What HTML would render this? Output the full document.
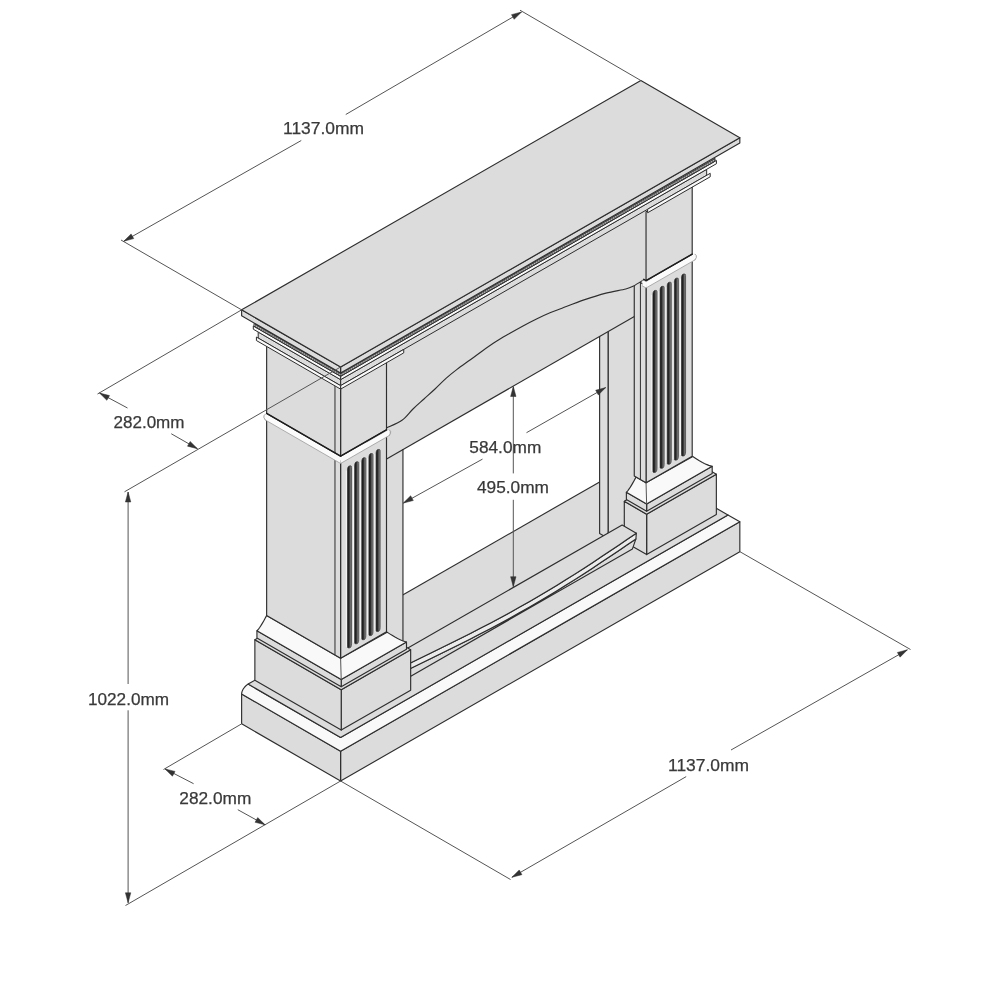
<!DOCTYPE html><html><head><meta charset="utf-8"><style>html,body{margin:0;padding:0;background:#fff;width:1000px;height:1000px;overflow:hidden}svg{display:block}</style></head><body><svg width="1000" height="1000" viewBox="0 0 1000 1000"><defs><linearGradient id="flute" x1="0" y1="0" x2="1" y2="0"><stop offset="0" stop-color="#101010"/><stop offset="0.4" stop-color="#2c2c2c"/><stop offset="1" stop-color="#9a9a9a"/></linearGradient></defs><rect width="1000" height="1000" fill="#ffffff"/><polygon points="340.60,781.00 739.83,551.65 739.83,521.85 340.60,751.20" fill="#dcdcdc" stroke="#2e2e2e" stroke-width="1.15" stroke-linejoin="round" />
<polygon points="241.62,723.85 340.60,781.00 340.60,751.20 241.62,694.05" fill="#dcdcdc" stroke="#2e2e2e" stroke-width="1.15" stroke-linejoin="round" />
<polygon points="340.60,751.20 739.83,521.85 727.95,514.99 340.60,737.52 248.11,684.12 246.84,684.97 245.63,686.02 244.50,687.24 243.52,688.57 242.71,689.98 242.11,691.39 241.74,692.77 241.62,694.05" fill="#f9f9f9" stroke="#2e2e2e" stroke-width="1.15" stroke-linejoin="round" />
<polygon points="248.11,684.12 340.60,737.52 727.95,514.99 640.84,464.70" fill="#dcdcdc" stroke="#2e2e2e" stroke-width="1.15" stroke-linejoin="round" />
<polygon points="374.89,675.02 617.37,535.72 617.37,471.72 374.89,611.02" fill="#dcdcdc" stroke="none" stroke-width="1.15" stroke-linejoin="round" />
<line x1="383.55" y1="606.05" x2="599.62" y2="481.92" stroke="#2e2e2e" stroke-width="1.15" />
<polygon points="599.62,533.42 608.28,538.42 608.28,331.52 599.62,326.52" fill="#dcdcdc" stroke="#2e2e2e" stroke-width="1.15" stroke-linejoin="round" />
<path d="M366.23,689.97 L652.01,525.80 L652.01,216.80 L366.23,380.97 Z M402.95,651.38 L608.28,533.42 L608.28,331.52 L402.95,449.48 Z" fill="#dcdcdc" stroke="none" stroke-width="1.15" stroke-linejoin="round" fill-rule="evenodd"/>
<polyline points="402.95,651.38 402.95,449.48" fill="none" stroke="#2e2e2e" stroke-width="1.15" stroke-linejoin="round" stroke-linecap="round" />
<line x1="608.28" y1="536.42" x2="608.28" y2="331.52" stroke="#2e2e2e" stroke-width="1.15" />
<line x1="385.29" y1="459.63" x2="636.08" y2="315.55" stroke="#2e2e2e" stroke-width="1.15" />
<polygon points="646.64,554.62 716.36,514.57 716.36,474.17 646.64,514.22" fill="#dcdcdc" stroke="#2e2e2e" stroke-width="1.15" stroke-linejoin="round" />
<polygon points="624.30,541.72 646.64,554.62 646.64,514.22 624.30,501.32" fill="#dcdcdc" stroke="#2e2e2e" stroke-width="1.15" stroke-linejoin="round" />
<polygon points="624.30,501.32 646.64,514.22 716.36,474.17 694.01,461.27" fill="#dcdcdc" stroke="#2e2e2e" stroke-width="1.15" stroke-linejoin="round" />
<polygon points="646.64,511.23 712.20,473.57 712.20,466.37 646.64,504.03" fill="#dcdcdc" stroke="#2e2e2e" stroke-width="1.15" stroke-linejoin="round" />
<polygon points="626.38,499.53 646.64,511.23 646.64,504.03 626.38,492.33" fill="#dcdcdc" stroke="#2e2e2e" stroke-width="1.15" stroke-linejoin="round" />
<polygon points="626.38,492.33 646.64,504.03 712.20,466.37 708.75,465.38 706.40,464.40 704.34,463.41 702.44,462.43 700.67,461.45 698.98,460.47 697.36,459.48 695.79,458.50 694.28,457.52 692.80,456.54 646.04,482.70 636.08,476.95 635.34,478.36 634.58,479.77 633.80,481.20 632.99,482.65 632.15,484.11 631.26,485.60 630.31,487.13 629.28,488.70 628.10,490.36" fill="#f9f9f9" stroke="#2e2e2e" stroke-width="1.15" stroke-linejoin="round" />
<line x1="646.64" y1="504.03" x2="646.04" y2="482.70" stroke="#555" stroke-width="1.00" />
<polygon points="409.45,669.01 419.67,664.05 429.89,659.07 440.07,654.09 450.22,649.08 460.32,644.04 470.35,638.96 480.31,633.84 490.18,628.68 499.97,623.46 509.66,618.18 519.25,612.85 528.74,607.46 538.12,602.01 547.40,596.50 556.58,590.93 565.67,585.31 574.66,579.64 583.58,573.91 592.42,568.15 601.19,562.35 609.92,556.52 618.60,550.66 627.26,544.79 635.91,538.91 632.44,548.91 405.98,679.01" fill="#dcdcdc" stroke="#2e2e2e" stroke-width="1.15" stroke-linejoin="round" />
<polygon points="409.88,663.26 420.11,658.30 430.32,653.32 440.51,648.34 450.65,643.33 460.75,638.29 470.78,633.21 480.74,628.09 490.62,622.93 500.40,617.71 510.09,612.43 519.68,607.10 529.17,601.71 538.56,596.26 547.84,590.75 557.02,585.18 566.10,579.56 575.10,573.89 584.01,568.16 592.85,562.40 601.63,556.60 610.35,550.77 619.04,544.91 627.69,539.04 636.34,533.16 635.91,538.91 627.26,544.79 618.60,550.66 609.92,556.52 601.19,562.35 592.42,568.15 583.58,573.91 574.66,579.64 565.67,585.31 556.58,590.93 547.40,596.50 538.12,602.01 528.74,607.46 519.25,612.85 509.66,618.18 499.97,623.46 490.18,628.68 480.31,633.84 470.35,638.96 460.32,644.04 450.22,649.08 440.07,654.09 429.89,659.07 419.67,664.05 409.45,669.01" fill="#ececec" stroke="#2e2e2e" stroke-width="1.15" stroke-linejoin="round" />
<polygon points="395.68,655.06 622.14,524.96 636.34,533.16 627.69,539.04 619.04,544.91 610.35,550.77 601.63,556.60 592.85,562.40 584.01,568.16 575.10,573.89 566.10,579.56 557.02,585.18 547.84,590.75 538.56,596.26 529.17,601.71 519.68,607.10 510.09,612.43 500.40,617.71 490.62,622.93 480.74,628.09 470.78,633.21 460.75,638.29 450.65,643.33 440.51,648.34 430.32,653.32 420.11,658.30 409.88,663.26" fill="#dcdcdc" stroke="#2e2e2e" stroke-width="1.15" stroke-linejoin="round" />
<polygon points="341.21,730.09 410.66,690.19 410.66,649.79 341.21,689.69" fill="#dcdcdc" stroke="#2e2e2e" stroke-width="1.15" stroke-linejoin="round" />
<polygon points="254.87,680.24 341.21,730.09 341.21,689.69 254.87,639.84" fill="#dcdcdc" stroke="#2e2e2e" stroke-width="1.15" stroke-linejoin="round" />
<polygon points="254.87,639.84 341.21,689.69 410.66,649.79 324.32,599.94" fill="#dcdcdc" stroke="#2e2e2e" stroke-width="1.15" stroke-linejoin="round" />
<polygon points="341.21,686.69 406.50,649.18 406.50,641.98 341.21,679.49" fill="#dcdcdc" stroke="#2e2e2e" stroke-width="1.15" stroke-linejoin="round" />
<polygon points="256.94,638.04 341.21,686.69 341.21,679.49 256.94,630.84" fill="#dcdcdc" stroke="#2e2e2e" stroke-width="1.15" stroke-linejoin="round" />
<polygon points="256.94,630.84 341.21,679.49 406.50,641.98 403.05,641.00 400.70,640.01 398.64,639.03 396.75,638.05 394.97,637.07 393.28,636.08 391.66,635.10 390.09,634.12 388.58,633.14 387.10,632.15 340.60,658.17 266.64,615.47 265.91,616.88 265.15,618.29 264.37,619.72 263.56,621.17 262.71,622.63 261.82,624.12 260.88,625.65 259.85,627.22 258.67,628.87" fill="#f9f9f9" stroke="#2e2e2e" stroke-width="1.15" stroke-linejoin="round" />
<line x1="341.21" y1="679.49" x2="340.60" y2="658.17" stroke="#555" stroke-width="1.00" />
<polygon points="646.04,482.70 692.20,456.19 692.20,259.19 646.04,285.70" fill="#dcdcdc" stroke="#2e2e2e" stroke-width="1.15" stroke-linejoin="round" />
<polygon points="634.26,475.90 646.04,482.70 646.04,285.70 634.26,278.90" fill="#dcdcdc" stroke="#2e2e2e" stroke-width="1.15" stroke-linejoin="round" />
<line x1="640.41" y1="479.45" x2="640.41" y2="282.45" stroke="#2e2e2e" stroke-width="1.00" />
<line x1="651.88" y1="471.35" x2="651.88" y2="295.05" stroke="#f4f4f4" stroke-width="1.30" />
<path d="M652.92,470.75 L652.92,294.45 C652.92,292.25 653.66,290.46 654.96,290.46 C656.26,290.46 656.99,289.91 656.99,292.11 L656.99,468.41 C656.99,470.61 656.26,472.40 654.96,472.40 C653.66,472.40 652.92,472.95 652.92,470.75 Z" fill="url(#flute)" stroke="#333" stroke-width="0.70" stroke-linejoin="round" />
<line x1="659.03" y1="467.24" x2="659.03" y2="290.94" stroke="#f4f4f4" stroke-width="1.30" />
<path d="M660.07,466.64 L660.07,290.34 C660.07,288.14 660.80,286.36 662.10,286.36 C663.40,286.36 664.14,285.81 664.14,288.01 L664.14,464.31 C664.14,466.51 663.40,468.30 662.10,468.30 C660.80,468.30 660.07,468.84 660.07,466.64 Z" fill="url(#flute)" stroke="#333" stroke-width="0.70" stroke-linejoin="round" />
<line x1="666.17" y1="463.14" x2="666.17" y2="286.84" stroke="#f4f4f4" stroke-width="1.30" />
<path d="M667.21,462.54 L667.21,286.24 C667.21,284.04 667.95,282.25 669.25,282.25 C670.55,282.25 671.28,281.70 671.28,283.90 L671.28,460.20 C671.28,462.40 670.55,464.19 669.25,464.19 C667.95,464.19 667.21,464.74 667.21,462.54 Z" fill="url(#flute)" stroke="#333" stroke-width="0.70" stroke-linejoin="round" />
<line x1="673.32" y1="459.03" x2="673.32" y2="282.73" stroke="#f4f4f4" stroke-width="1.30" />
<path d="M674.36,458.44 L674.36,282.14 C674.36,279.94 675.09,278.15 676.39,278.15 C677.69,278.15 678.43,277.60 678.43,279.80 L678.43,456.10 C678.43,458.30 677.69,460.09 676.39,460.09 C675.09,460.09 674.36,460.64 674.36,458.44 Z" fill="url(#flute)" stroke="#333" stroke-width="0.70" stroke-linejoin="round" />
<line x1="680.46" y1="454.93" x2="680.46" y2="278.63" stroke="#f4f4f4" stroke-width="1.30" />
<path d="M681.50,454.33 L681.50,278.03 C681.50,275.83 682.24,274.04 683.54,274.04 C684.84,274.04 685.57,273.49 685.57,275.69 L685.57,451.99 C685.57,454.19 684.84,455.98 683.54,455.98 C682.24,455.98 681.50,456.53 681.50,454.33 Z" fill="url(#flute)" stroke="#333" stroke-width="0.70" stroke-linejoin="round" />
<polygon points="340.60,658.17 386.50,631.80 386.50,434.80 340.60,461.17" fill="#dcdcdc" stroke="#2e2e2e" stroke-width="1.15" stroke-linejoin="round" />
<polygon points="266.64,615.47 340.60,658.17 340.60,461.17 266.64,418.47" fill="#dcdcdc" stroke="#2e2e2e" stroke-width="1.15" stroke-linejoin="round" />
<line x1="334.97" y1="654.92" x2="334.97" y2="457.92" stroke="#2e2e2e" stroke-width="1.00" />
<line x1="346.45" y1="646.81" x2="346.45" y2="470.51" stroke="#f4f4f4" stroke-width="1.30" />
<path d="M347.48,646.22 L347.48,469.92 C347.48,467.72 348.22,465.93 349.52,465.93 C350.82,465.93 351.55,465.38 351.55,467.58 L351.55,643.88 C351.55,646.08 350.82,647.87 349.52,647.87 C348.22,647.87 347.48,648.42 347.48,646.22 Z" fill="url(#flute)" stroke="#333" stroke-width="0.70" stroke-linejoin="round" />
<line x1="353.59" y1="642.71" x2="353.59" y2="466.41" stroke="#f4f4f4" stroke-width="1.30" />
<path d="M354.63,642.11 L354.63,465.81 C354.63,463.61 355.36,461.82 356.66,461.82 C357.96,461.82 358.70,461.27 358.70,463.47 L358.70,639.77 C358.70,641.97 357.96,643.76 356.66,643.76 C355.36,643.76 354.63,644.31 354.63,642.11 Z" fill="url(#flute)" stroke="#333" stroke-width="0.70" stroke-linejoin="round" />
<line x1="360.73" y1="638.61" x2="360.73" y2="462.31" stroke="#f4f4f4" stroke-width="1.30" />
<path d="M361.77,638.01 L361.77,461.71 C361.77,459.51 362.51,457.72 363.81,457.72 C365.11,457.72 365.84,457.17 365.84,459.37 L365.84,635.67 C365.84,637.87 365.11,639.66 363.81,639.66 C362.51,639.66 361.77,640.21 361.77,638.01 Z" fill="url(#flute)" stroke="#333" stroke-width="0.70" stroke-linejoin="round" />
<line x1="367.88" y1="634.50" x2="367.88" y2="458.20" stroke="#f4f4f4" stroke-width="1.30" />
<path d="M368.92,633.90 L368.92,457.60 C368.92,455.40 369.65,453.61 370.95,453.61 C372.25,453.61 372.99,453.07 372.99,455.27 L372.99,631.57 C372.99,633.77 372.25,635.55 370.95,635.55 C369.65,635.55 368.92,636.10 368.92,633.90 Z" fill="url(#flute)" stroke="#333" stroke-width="0.70" stroke-linejoin="round" />
<line x1="375.02" y1="630.40" x2="375.02" y2="454.10" stroke="#f4f4f4" stroke-width="1.30" />
<path d="M376.06,629.80 L376.06,453.50 C376.06,451.30 376.80,449.51 378.10,449.51 C379.40,449.51 380.13,448.96 380.13,451.16 L380.13,627.46 C380.13,629.66 379.40,631.45 378.10,631.45 C376.80,631.45 376.06,632.00 376.06,629.80 Z" fill="url(#flute)" stroke="#333" stroke-width="0.70" stroke-linejoin="round" />
<path d="M386.60,427.90 C389.17,426.63 397.60,423.45 402.00,420.30 C406.40,417.15 409.33,412.55 413.00,409.00 C416.67,405.45 420.33,402.33 424.00,399.00 C427.67,395.67 431.33,392.43 435.00,389.00 C438.67,385.57 442.33,381.67 446.00,378.40 C449.67,375.13 453.00,372.47 457.00,369.40 C461.00,366.33 465.83,363.03 470.00,360.00 C474.17,356.97 477.67,354.27 482.00,351.20 C486.33,348.13 491.57,344.45 496.00,341.60 C500.43,338.75 504.10,336.70 508.60,334.10 C513.10,331.50 518.35,328.52 523.00,326.00 C527.65,323.48 532.00,321.20 536.50,319.00 C541.00,316.80 545.75,314.60 550.00,312.80 C554.25,311.00 556.33,310.35 562.00,308.20 C567.67,306.05 576.67,302.42 584.00,299.90 C591.33,297.38 599.03,294.92 606.00,293.10 C612.97,291.28 621.22,290.18 625.80,289.00 C630.38,287.82 630.57,287.52 633.50,286.00 C636.43,284.48 641.75,280.92 643.40,279.90 L646.50,279.00 L646.04,204.70 L386.50,353.80 Z" fill="#dcdcdc" stroke="none" stroke-width="1.15" stroke-linejoin="round" />
<path d="M386.60,427.90 C389.17,426.63 397.60,423.45 402.00,420.30 C406.40,417.15 409.33,412.55 413.00,409.00 C416.67,405.45 420.33,402.33 424.00,399.00 C427.67,395.67 431.33,392.43 435.00,389.00 C438.67,385.57 442.33,381.67 446.00,378.40 C449.67,375.13 453.00,372.47 457.00,369.40 C461.00,366.33 465.83,363.03 470.00,360.00 C474.17,356.97 477.67,354.27 482.00,351.20 C486.33,348.13 491.57,344.45 496.00,341.60 C500.43,338.75 504.10,336.70 508.60,334.10 C513.10,331.50 518.35,328.52 523.00,326.00 C527.65,323.48 532.00,321.20 536.50,319.00 C541.00,316.80 545.75,314.60 550.00,312.80 C554.25,311.00 556.33,310.35 562.00,308.20 C567.67,306.05 576.67,302.42 584.00,299.90 C591.33,297.38 599.03,294.92 606.00,293.10 C612.97,291.28 621.22,290.18 625.80,289.00 C630.38,287.82 630.57,287.52 633.50,286.00 C636.43,284.48 641.75,280.92 643.40,279.90" fill="none" stroke="#2e2e2e" stroke-width="1.15" stroke-linejoin="round" />
<polygon points="646.04,280.70 692.20,254.19 692.20,185.19 646.04,211.70" fill="#dcdcdc" stroke="#2e2e2e" stroke-width="1.15" stroke-linejoin="round" />
<polygon points="340.60,456.17 386.50,429.80 386.50,360.80 340.60,387.17" fill="#dcdcdc" stroke="#2e2e2e" stroke-width="1.15" stroke-linejoin="round" />
<polygon points="266.64,413.47 340.60,456.17 340.60,387.17 266.64,344.47" fill="#dcdcdc" stroke="#2e2e2e" stroke-width="1.15" stroke-linejoin="round" />
<line x1="334.97" y1="452.92" x2="334.97" y2="383.92" stroke="#2e2e2e" stroke-width="1.00" />
<polygon points="646.04,288.00 694.97,259.89 694.97,254.19 646.04,282.30" fill="#fbfbfb" stroke="none" stroke-width="1.15" stroke-linejoin="round" />
<polygon points="642.40,285.90 646.04,288.00 646.04,282.30 642.40,280.20" fill="#fbfbfb" stroke="none" stroke-width="1.15" stroke-linejoin="round" />
<polyline points="642.40,285.90 646.04,288.00 694.97,259.89" fill="none" stroke="#9a9a9a" stroke-width="0.80" stroke-linejoin="round" stroke-linecap="round" />
<polyline points="643.79,279.40 646.04,280.70 692.20,254.19" fill="none" stroke="#1e1e1e" stroke-width="1.50" stroke-linejoin="round" stroke-linecap="round" />
<polyline points="694.97,254.19 696.27,255.65 696.27,257.65 694.97,259.89" fill="none" stroke="#9a9a9a" stroke-width="0.90" stroke-linejoin="round" stroke-linecap="round" />
<polygon points="340.60,463.47 389.27,435.51 389.27,429.81 340.60,457.77" fill="#fbfbfb" stroke="none" stroke-width="1.15" stroke-linejoin="round" />
<polygon points="265.26,419.97 340.60,463.47 340.60,457.77 265.26,414.27" fill="#fbfbfb" stroke="none" stroke-width="1.15" stroke-linejoin="round" />
<polyline points="265.26,419.97 340.60,463.47 389.27,435.51" fill="none" stroke="#9a9a9a" stroke-width="0.80" stroke-linejoin="round" stroke-linecap="round" />
<polyline points="266.64,413.47 340.60,456.17 386.50,429.80" fill="none" stroke="#1e1e1e" stroke-width="1.50" stroke-linejoin="round" stroke-linecap="round" />
<polyline points="389.27,429.81 390.57,431.26 390.57,433.26 389.27,435.51" fill="none" stroke="#9a9a9a" stroke-width="0.90" stroke-linejoin="round" stroke-linecap="round" />
<polyline points="265.26,414.27 263.96,415.72 263.96,417.72 265.26,419.97" fill="none" stroke="#9a9a9a" stroke-width="0.90" stroke-linejoin="round" stroke-linecap="round" />
<polygon points="340.60,385.65 706.66,175.35 706.66,169.35 340.60,379.65" fill="#dcdcdc" stroke="#2e2e2e" stroke-width="1.00" stroke-linejoin="round" />
<polygon points="258.20,338.07 340.60,385.65 340.60,379.65 258.20,332.07" fill="#dcdcdc" stroke="#2e2e2e" stroke-width="1.00" stroke-linejoin="round" />
<polygon points="340.60,389.14 403.73,352.88 403.73,349.38 340.60,385.64" fill="#f9f9f9" stroke="#2e2e2e" stroke-width="1.00" stroke-linejoin="round" />
<polygon points="256.42,340.54 340.60,389.14 340.60,385.64 256.42,337.04" fill="#f9f9f9" stroke="#2e2e2e" stroke-width="1.00" stroke-linejoin="round" />
<polygon points="647.60,212.78 710.21,176.81 710.21,173.31 647.60,209.28" fill="#f9f9f9" stroke="#2e2e2e" stroke-width="1.00" stroke-linejoin="round" />
<polygon points="340.60,379.63 716.44,163.72 716.44,160.42 340.60,376.33" fill="#f9f9f9" stroke="#2e2e2e" stroke-width="1.00" stroke-linejoin="round" />
<polygon points="253.31,329.23 340.60,379.63 340.60,376.33 253.31,325.93" fill="#f9f9f9" stroke="#2e2e2e" stroke-width="1.00" stroke-linejoin="round" />
<polygon points="340.60,376.34 715.06,161.22 715.06,158.32 340.60,373.44" fill="#6a6a6a" stroke="#2e2e2e" stroke-width="0.90" stroke-linejoin="round" />
<polygon points="254.00,326.34 340.60,376.34 340.60,373.44 254.00,323.44" fill="#6a6a6a" stroke="#2e2e2e" stroke-width="0.90" stroke-linejoin="round" />
<line x1="340.60" y1="374.89" x2="715.06" y2="159.77" stroke="#c8c8c8" stroke-width="1.10" stroke-dasharray="1.0 1.4"/>
<line x1="254.00" y1="324.89" x2="340.60" y2="374.89" stroke="#c8c8c8" stroke-width="1.10" stroke-dasharray="1.0 1.4"/>
<polygon points="340.60,373.00 739.83,143.05 739.83,137.65 340.60,367.00" fill="#dcdcdc" stroke="#2e2e2e" stroke-width="1.15" stroke-linejoin="round" />
<polygon points="241.62,315.85 340.60,373.00 340.60,367.00 241.62,309.85" fill="#dcdcdc" stroke="#2e2e2e" stroke-width="1.15" stroke-linejoin="round" />
<polygon points="241.62,309.85 340.60,367.00 739.83,137.65 640.84,80.50" fill="#dcdcdc" stroke="#2e2e2e" stroke-width="1.15" stroke-linejoin="round" />
<line x1="241.62" y1="309.85" x2="121.00" y2="240.00" stroke="#555555" stroke-width="1.00" />
<line x1="640.84" y1="80.50" x2="520.00" y2="10.20" stroke="#555555" stroke-width="1.00" />
<line x1="123.75" y1="241.25" x2="301.25" y2="140.50" stroke="#555555" stroke-width="1.00" />
<line x1="345.75" y1="114.50" x2="521.50" y2="12.00" stroke="#555555" stroke-width="1.00" />
<polygon points="123.75,241.25 131.07,233.92 133.76,238.60" fill="#333" stroke="#333" stroke-width="0.50" stroke-linejoin="round" />
<polygon points="521.50,12.00 514.18,19.33 511.49,14.65" fill="#333" stroke="#333" stroke-width="0.50" stroke-linejoin="round" />
<line x1="241.62" y1="309.85" x2="97.50" y2="394.00" stroke="#555555" stroke-width="1.00" />
<line x1="340.60" y1="367.00" x2="124.50" y2="491.80" stroke="#555555" stroke-width="1.00" />
<line x1="99.50" y1="393.00" x2="127.50" y2="408.00" stroke="#555555" stroke-width="1.00" />
<line x1="171.25" y1="433.75" x2="197.50" y2="448.75" stroke="#555555" stroke-width="1.00" />
<polygon points="99.50,393.00 109.53,395.60 106.86,400.29" fill="#333" stroke="#333" stroke-width="0.50" stroke-linejoin="round" />
<polygon points="197.50,448.75 187.47,446.15 190.14,441.46" fill="#333" stroke="#333" stroke-width="0.50" stroke-linejoin="round" />
<line x1="340.60" y1="781.00" x2="125.50" y2="905.50" stroke="#555555" stroke-width="1.00" />
<line x1="128.10" y1="492.00" x2="128.10" y2="684.00" stroke="#555555" stroke-width="1.00" />
<line x1="128.10" y1="710.30" x2="128.10" y2="902.80" stroke="#555555" stroke-width="1.00" />
<polygon points="128.10,492.00 130.80,502.00 125.40,502.00" fill="#333" stroke="#333" stroke-width="0.50" stroke-linejoin="round" />
<polygon points="128.10,902.80 125.40,892.80 130.80,892.80" fill="#333" stroke="#333" stroke-width="0.50" stroke-linejoin="round" />
<line x1="241.62" y1="723.85" x2="163.50" y2="769.50" stroke="#555555" stroke-width="1.00" />
<line x1="165.00" y1="768.90" x2="193.60" y2="783.70" stroke="#555555" stroke-width="1.00" />
<line x1="237.80" y1="809.70" x2="265.10" y2="824.80" stroke="#555555" stroke-width="1.00" />
<polygon points="165.00,768.90 175.05,771.42 172.41,776.13" fill="#333" stroke="#333" stroke-width="0.50" stroke-linejoin="round" />
<polygon points="265.10,824.80 255.05,822.28 257.69,817.57" fill="#333" stroke="#333" stroke-width="0.50" stroke-linejoin="round" />
<line x1="340.60" y1="781.00" x2="510.50" y2="879.50" stroke="#555555" stroke-width="1.00" />
<line x1="739.83" y1="551.65" x2="910.50" y2="649.50" stroke="#555555" stroke-width="1.00" />
<line x1="511.90" y1="877.30" x2="686.20" y2="776.60" stroke="#555555" stroke-width="1.00" />
<line x1="731.00" y1="750.00" x2="907.40" y2="649.80" stroke="#555555" stroke-width="1.00" />
<polygon points="511.90,877.30 519.22,869.97 521.91,874.65" fill="#333" stroke="#333" stroke-width="0.50" stroke-linejoin="round" />
<polygon points="907.40,649.80 900.08,657.13 897.39,652.45" fill="#333" stroke="#333" stroke-width="0.50" stroke-linejoin="round" />
<line x1="513.30" y1="386.50" x2="513.30" y2="473.40" stroke="#555555" stroke-width="1.00" />
<line x1="513.30" y1="499.80" x2="513.30" y2="586.70" stroke="#555555" stroke-width="1.00" />
<polygon points="513.30,386.50 516.00,396.50 510.60,396.50" fill="#333" stroke="#333" stroke-width="0.50" stroke-linejoin="round" />
<polygon points="513.30,586.70 510.60,576.70 516.00,576.70" fill="#333" stroke="#333" stroke-width="0.50" stroke-linejoin="round" />
<line x1="403.30" y1="503.10" x2="482.50" y2="459.10" stroke="#555555" stroke-width="1.00" />
<line x1="526.50" y1="432.70" x2="605.70" y2="387.60" stroke="#555555" stroke-width="1.00" />
<polygon points="403.30,503.10 410.65,495.80 413.32,500.49" fill="#333" stroke="#333" stroke-width="0.50" stroke-linejoin="round" />
<polygon points="605.70,387.60 598.35,394.90 595.68,390.21" fill="#333" stroke="#333" stroke-width="0.50" stroke-linejoin="round" /><g font-family="Liberation Sans, sans-serif" font-size="17" fill="#383838" stroke="#383838" stroke-width="0.25" opacity="0.995" style="will-change:transform"><text x="283.0" y="134.3" textLength="81" lengthAdjust="spacingAndGlyphs">1137.0mm</text>
<text x="113.5" y="428.0" textLength="71" lengthAdjust="spacingAndGlyphs">282.0mm</text>
<text x="88.0" y="704.7" textLength="81" lengthAdjust="spacingAndGlyphs">1022.0mm</text>
<text x="179.3" y="804.0" textLength="72" lengthAdjust="spacingAndGlyphs">282.0mm</text>
<text x="668.0" y="771.0" textLength="81" lengthAdjust="spacingAndGlyphs">1137.0mm</text>
<text x="477.0" y="493.2" textLength="72" lengthAdjust="spacingAndGlyphs">495.0mm</text>
<text x="469.3" y="452.5" textLength="72" lengthAdjust="spacingAndGlyphs">584.0mm</text></g></svg></body></html>
